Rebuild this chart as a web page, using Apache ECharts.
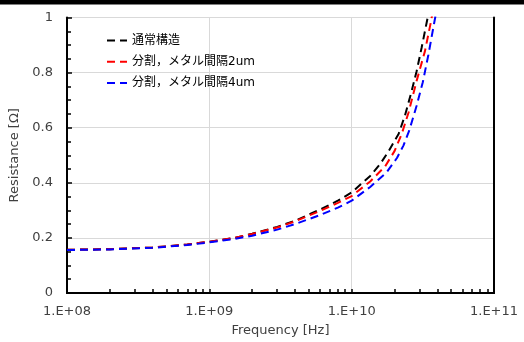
<!DOCTYPE html>
<html>
<head>
<meta charset="utf-8">
<script src="https://cdn.jsdelivr.net/npm/echarts@6/dist/echarts.min.js"></script>
<style>html,body{margin:0;padding:0;background:#fff}#c{width:524px;height:342px}</style>
</head>
<body>
<div id="c"></div>
<script>
const seriesNames = ['通常構造', '分割，メタル間隔2um', '分割，メタル間隔4um'];
const xTickLabels = ['1.E+08', '1.E+09', '1.E+10', '1.E+11'];
const freqNormal = [1e8, 2e8, 4e8, 7e8, 1e9, 1.5e9, 2e9, 3e9, 4e9, 6e9, 8e9, 1e10, 1.35e10, 1.585e10, 1.82e10, 2.14e10, 2.37e10, 2.63e10, 2.86e10, 3.1e10, 3.39e10, 3.63e10];
const resNormal  = [0.157, 0.159, 0.165, 0.176, 0.186, 0.2, 0.215, 0.24, 0.262, 0.303, 0.335, 0.365, 0.425, 0.468, 0.515, 0.578, 0.645, 0.73, 0.805, 0.89, 0.99, 1.07];
const freq2um = [1e8, 2e8, 4e8, 7e8, 1e9, 1.5e9, 2e9, 3e9, 4e9, 6e9, 8e9, 1e10, 1.35e10, 1.72e10, 2.0e10, 2.25e10, 2.51e10, 2.86e10, 3.27e10, 3.59e10, 3.8e10];
const res2um  = [0.157, 0.159, 0.165, 0.176, 0.186, 0.2, 0.214, 0.238, 0.26, 0.298, 0.327, 0.352, 0.405, 0.46, 0.515, 0.578, 0.655, 0.77, 0.877, 0.98, 1.05];
const freq4um = [1e8, 2e8, 4e8, 7e8, 1e9, 1.5e9, 2e9, 3e9, 4e9, 6e9, 8e9, 1e10, 1.35e10, 1.76e10, 2.08e10, 2.31e10, 2.54e10, 2.86e10, 3.16e10, 3.46e10, 3.83e10, 4.07e10];
const res4um  = [0.156, 0.158, 0.164, 0.174, 0.184, 0.196, 0.208, 0.23, 0.25, 0.283, 0.31, 0.335, 0.385, 0.438, 0.49, 0.535, 0.59, 0.68, 0.765, 0.865, 0.99, 1.06];
const colors = ['#000000', '#ff0000', '#0000ff'];

const zip = (xs, ys) => xs.map((x, i) => [x, ys[i]]);
const seriesData = [zip(freqNormal, resNormal), zip(freq2um, res2um), zip(freq4um, res4um)];

const chart = echarts.init(document.getElementById('c'), null, {renderer: 'canvas'});
const txt = '#404040';
const font = 'DejaVu Sans';
chart.setOption({
  animation: false,
  backgroundColor: '#fff',
  graphic: [{type: 'rect', left: 0, top: 0, shape: {width: 524, height: 4.5}, style: {fill: '#000'}}],
  grid: {left: 67, right: 30, top: 17.5, bottom: 47.5},
  legend: {
    data: seriesNames, orient: 'vertical', left: 101, top: 29.5, itemWidth: 20, itemHeight: 12, itemGap: 9.2,
    itemStyle: {opacity: 0},
    textStyle: {fontSize: 12, color: '#000', fontFamily: font + ', "Noto Sans CJK JP"'}
  },
  xAxis: [{
    type: 'log', logBase: 10, min: 1e8, max: 1e11,
    name: 'Frequency [Hz]', nameLocation: 'middle', nameGap: 31,
    nameTextStyle: {fontSize: 13, color: txt, fontFamily: font},
    axisLine: {lineStyle: {color: '#000', width: 2}},
    axisTick: {inside: true, length: 4, lineStyle: {color: '#000', width: 1.5}},
    minorTick: {show: true, splitNumber: 9, length: 4, lineStyle: {color: '#000', width: 1.5}},
    splitLine: {show: true, lineStyle: {color: '#d9d9d9', width: 1}},
    axisLabel: {fontSize: 13, color: txt, fontFamily: font, margin: 12,
      formatter: v => xTickLabels[Math.round(Math.log10(v)) - 8]}
  }, {
    type: 'log', logBase: 10, min: 1e8, max: 1e11, position: 'top',
    axisLine: {show: true, lineStyle: {color: '#000', width: 2}},
    axisTick: {show: false}, axisLabel: {show: false}, splitLine: {show: false}
  }],
  yAxis: [{
    type: 'value', min: 0, max: 1, interval: 0.2,
    name: 'Resistance [Ω]', nameLocation: 'middle', nameGap: 40, nameRotate: 90,
    nameTextStyle: {fontSize: 13, color: txt, fontFamily: font},
    axisLine: {show: true, lineStyle: {color: '#000', width: 2}},
    axisTick: {show: true, inside: true, length: 5, lineStyle: {color: '#000', width: 1.5}},
    minorTick: {show: true, splitNumber: 4, length: 4, lineStyle: {color: '#000', width: 1.5}},
    splitLine: {show: true, lineStyle: {color: '#d9d9d9', width: 1}},
    axisLabel: {fontSize: 13, color: txt, fontFamily: font, margin: 14}
  }, {
    type: 'value', min: 0, max: 1, interval: 0.2, position: 'right',
    axisLine: {show: true, lineStyle: {color: '#000', width: 2}},
    axisTick: {show: false}, axisLabel: {show: false}, splitLine: {show: false}
  }],
  series: seriesNames.map((n, i) => ({
    name: n, type: 'line', data: seriesData[i], smooth: false, showSymbol: false, symbol: 'none',
    color: colors[i], lineStyle: {color: colors[i], width: 2, type: [8, 5]}, clip: true, z: 2 + i
  }))
});
</script>
</body>
</html>
